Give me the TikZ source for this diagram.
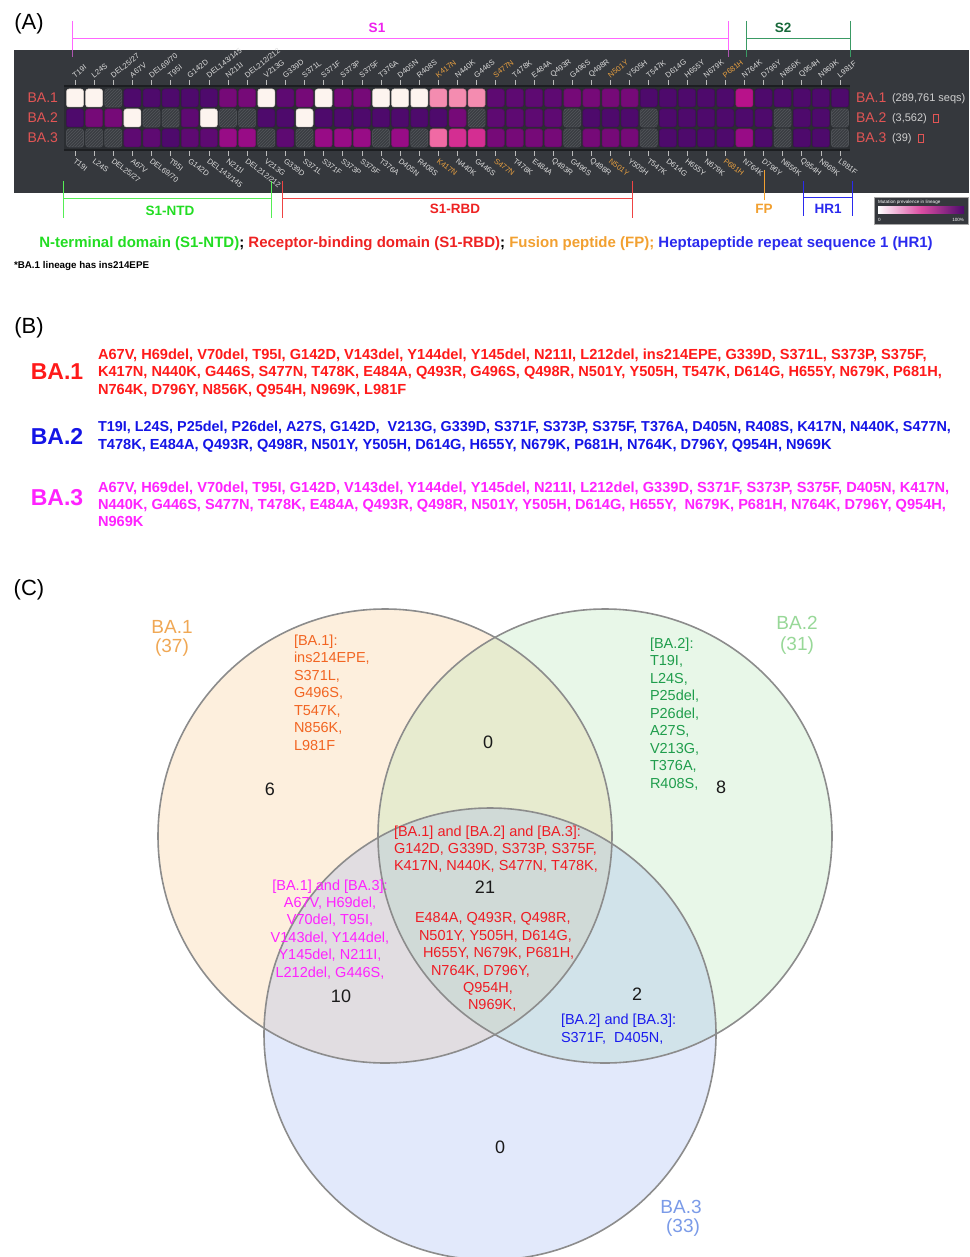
\documentclass[tikz,border=0pt]{standalone}
\usepackage{fontspec}
\setmainfont{Liberation Sans}
\usetikzlibrary{patterns}

\definecolor{panelbg}{HTML}{35383D}
\definecolor{griddark}{HTML}{2B2E32}
\definecolor{gridline}{HTML}{1C1E21}
\definecolor{tickc}{HTML}{BBBBBB}
\definecolor{labg}{HTML}{DDDDDD}
\definecolor{labo}{HTML}{E8A040}
\definecolor{cw}{HTML}{FDF4EF}
\definecolor{cd}{HTML}{4E0A6C}
\definecolor{cp}{HTML}{5E0A72}
\definecolor{cm}{HTML}{760A78}
\definecolor{cn}{HTML}{980C86}
\definecolor{cb}{HTML}{B8128A}
\definecolor{ck}{HTML}{F48CB0}
\definecolor{cj}{HTML}{F06AA4}
\definecolor{cr}{HTML}{D42E92}
\definecolor{hatchbg}{HTML}{393C41}
\definecolor{hatchln}{HTML}{53565B}
\definecolor{hatchbd}{HTML}{4A4D52}
\definecolor{rowred}{HTML}{E25555}
\definecolor{seqgray}{HTML}{CFCFCF}
\definecolor{sonec}{HTML}{FF66FF}
\definecolor{sonet}{HTML}{EE22EE}
\definecolor{stwoc}{HTML}{3A9A64}
\definecolor{stwot}{HTML}{17693A}
\definecolor{ntdc}{HTML}{55EE55}
\definecolor{ntdt}{HTML}{22DD22}
\definecolor{rbdc}{HTML}{EE4444}
\definecolor{rbdt}{HTML}{EE2222}
\definecolor{fpc}{HTML}{F2A030}
\definecolor{hrc}{HTML}{2A2AEE}
\definecolor{bred}{HTML}{FF1A1A}
\definecolor{bblue}{HTML}{1414E6}
\definecolor{bmag}{HTML}{FF22FF}
\definecolor{vone}{HTML}{F9C27A}
\definecolor{vtwo}{HTML}{A6E0A6}
\definecolor{vthree}{HTML}{8FA8F0}
\definecolor{vline}{HTML}{8C8C8C}
\definecolor{tone}{HTML}{F26522}
\definecolor{ttwo}{HTML}{1F9D4C}
\definecolor{tall}{HTML}{EE1C24}
\definecolor{tbc}{HTML}{FF22FF}
\definecolor{tbb}{HTML}{1A1AEE}
\definecolor{lone}{HTML}{F0A855}
\definecolor{ltwo}{HTML}{98D898}
\definecolor{lthree}{HTML}{7B9BE8}
\definecolor{numc}{HTML}{1A1A1A}

\newcommand\heatrow[2]{%
  \foreach \curc [count=\i from 0] in {#2} {%
    \pgfmathsetmacro\xc{75+\i*19.125}%
    \def\hatchkey{H}\edef\curcc{\curc}%
    \ifx\curcc\hatchkey
      \path[fill=hatchbg, draw=hatchbd, line width=0.6, rounded corners=2.5, postaction={pattern=north east lines, pattern color=hatchln}] (\xc-8.5,#1-9) rectangle (\xc+8.5,#1+9);
    \else
      \path[fill=\curc, draw=\curc!85!black, line width=0.5, rounded corners=2.5] (\xc-8.5,#1-9) rectangle (\xc+8.5,#1+9);
    \fi
  }}

\begin{document}
\begin{tikzpicture}[x=1pt,y=-1pt,
  every node/.style={inner sep=0pt, outer sep=0pt},
  plab/.style={font=\fontsize{22}{24}\selectfont},
  collab/.style={font=\fontsize{7.6}{8.2}\selectfont},
  rowlab/.style={font=\fontsize{14}{16}\selectfont, text=rowred},
  seqlab/.style={font=\fontsize{11}{13}\selectfont, text=seqgray},
  brlab/.style={font=\fontsize{13.5}{15}\selectfont\bfseries},
  btxt/.style={font=\fontsize{14.6}{17}\selectfont\bfseries, anchor=base west},
  blab/.style={font=\fontsize{23}{25}\selectfont\bfseries},
  vtxt/.style={font=\fontsize{14.5}{17}\selectfont},
  vnum/.style={font=\fontsize{18}{20}\selectfont, text=numc},
  vlab/.style={font=\fontsize{19}{21}\selectfont},
  circ/.style={draw=vline, line width=1.6}
]
\useasboundingbox[fill=white] (0,0) rectangle (969,1257);

% ================= Panel A =================
\node[plab] (pA) at (29,24) {(A)};
\fill[panelbg] (14,50) rectangle (969,193);

% S1 / S2 brackets
\draw[sonec, line width=1] (72,21) -- (72,50) (728,21) -- (728,50) (72,39) -- (728,39);
\draw[sonec!60!panelbg, line width=1] (72,50) -- (72,57) (728,50) -- (728,57);
\node[brlab, text=sonet] (sone) at (377,28) {S1};
\draw[stwoc, line width=1] (746,21) -- (746,57) (850,21) -- (850,57) (746,39) -- (850,39);
\node[brlab, text=stwot] (stwo) at (783,28) {S2};

% grid background and rules
\fill[griddark] (64,87) rectangle (850,149);
\draw[gridline, line width=2] (64,86) -- (850,86) (64,150) -- (850,150);

% column labels and ticks
\foreach \t [count=\i from 0] in {T19I,L24S,DEL25/27,A67V,DEL69/70,T95I,G142D,DEL143/145,N211I,DEL212/212,V213G,G339D,S371L,S371F,S373P,S375F,T376A,D405N,R408S,K417N,N440K,G446S,S477N,T478K,E484A,Q493R,G496S,Q498R,N501Y,Y505H,T547K,D614G,H655Y,N679K,P681H,N764K,D796Y,N856K,Q954H,N969K,L981F} {
  \pgfmathsetmacro\xc{75+\i*19.125}
  \pgfmathtruncatemacro\isor{(\i==19||\i==22||\i==28||\i==34)?1:0}
  \ifnum\isor=1 \def\lc{labo}\else\def\lc{labg}\fi
  \draw[tickc, line width=0.6] (\xc,80) -- (\xc,85) (\xc,151) -- (\xc,156);
  \node[collab, text=\lc, anchor=west, rotate=38] (tl\i) at (\xc-1.5,76) {\t};
  \node[collab, text=\lc, anchor=west, rotate=-38] (bl\i) at (\xc-0.5,160) {\t};
}

% heatmap cells
\heatrow{98}{cw,cw,H,cd,cd,cd,cd,cd,cm,cm,cw,cp,cm,cw,cm,cm,cw,cw,cw,ck,ck,ck,cp,cp,cp,cp,cm,cm,cm,cm,cd,cd,cd,cd,cd,cb,cd,cd,cd,cd,cd}
\heatrow{118}{cd,cm,cm,cw,H,H,cp,cw,H,H,cd,cd,cw,cd,cd,cd,cd,cd,cd,cd,cm,H,cp,cp,cp,cp,H,cd,cd,cd,H,cd,cd,cd,cd,cd,cd,H,cd,cd,H}
\heatrow{138}{H,H,H,cp,cp,cd,cp,cp,cn,cn,H,cp,H,cn,cn,cn,H,cn,H,cj,cr,cr,cm,cm,cm,cm,H,cm,cm,cm,H,cd,cd,cd,cd,cn,cd,H,cd,cd,H}

% row labels
\node[rowlab, anchor=east] (la1) at (58,98) {BA.1};
\node[rowlab, anchor=east] (la2) at (58,118) {BA.2};
\node[rowlab, anchor=east] (la3) at (58,138) {BA.3};
\node[rowlab, anchor=west] (ra1) at (856,98) {BA.1};
\node[rowlab, anchor=west] (ra2) at (856,118) {BA.2};
\node[rowlab, anchor=west] (ra3) at (856,138) {BA.3};
\node[seqlab, anchor=west] (rs1) at (892,98.5) {(289,761 seqs)};
\node[seqlab, anchor=west] (rs2) at (892,118.5) {(3,562)};
\node[seqlab, anchor=west] (rs3) at (892,138.5) {(39)};
\draw[rowred, line width=0.6] (933,114) rectangle (938,122);
\draw[rowred, line width=0.6] (918,134) rectangle (923,142);

% legend
\fill[panelbg] (874,197) rectangle (968,224);
\draw[gray!70, line width=0.5] (874,197) rectangle (968,224);
\node[font=\fontsize{4.6}{5}\selectfont, text=white, anchor=west] (lgt) at (878,202.5) {Mutation prevalence in lineage};
\shade[left color=white, right color=cd, middle color=cr!85!white] (878,207) rectangle (964,214);
\node[font=\fontsize{4.6}{5}\selectfont, text=white, anchor=west] (lg0) at (878,219.5) {0};
\node[font=\fontsize{4.6}{5}\selectfont, text=white, anchor=east] (lg1) at (964,219.5) {100\%};

% domain brackets
\draw[ntdc, line width=1] (63,181) -- (63,218) (271,181) -- (271,218) (63,199) -- (271,199);
\node[brlab, text=ntdt] (ntd) at (170,211) {S1-NTD};
\draw[rbdc, line width=1] (282,181) -- (282,218) (632,181) -- (632,218) (282,199) -- (632,199);
\node[brlab, text=rbdt] (rbd) at (455,209) {S1-RBD};
\draw[fpc, line width=1] (764,170) -- (764,200);
\node[brlab, text=fpc] (fp) at (764,209) {FP};
\draw[hrc, line width=1] (803,181) -- (803,216) (852,181) -- (852,216) (803,198) -- (852,198);
\node[brlab, text=hrc] (hr) at (828,209) {HR1};

\node[font=\fontsize{15}{17}\selectfont\bfseries] (dom) at (486,244)
  {\textcolor{ntdt}{N-terminal domain (S1-NTD)};
   \textcolor{rbdt}{Receptor-binding domain (S1-RBD)};
   \textcolor{fpc}{Fusion peptide (FP);}
   \textcolor{hrc}{Heptapeptide repeat sequence 1 (HR1)}};
\node[font=\fontsize{9.8}{11}\selectfont\bfseries, anchor=west] (foot) at (14,266) {*BA.1 lineage has ins214EPE};

% ================= Panel B =================
\node[plab] (pB) at (29,328) {(B)};
\node[blab, text=bred] (b1) at (57,372) {BA.1};
\node[blab, text=bblue] (b2) at (57,436) {BA.2};
\node[blab, text=bmag] (b3) at (57,498) {BA.3};

\node[btxt, text=bred] (b1a) at (98,359.3) {A67V, H69del, V70del, T95I, G142D, V143del, Y144del, Y145del, N211I, L212del, ins214EPE, G339D, S371L, S373P, S375F,};
\node[btxt, text=bred] (b1b) at (98,376.8) {K417N, N440K, G446S, S477N, T478K, E484A, Q493R, G496S, Q498R, N501Y, Y505H, T547K, D614G, H655Y, N679K, P681H,};
\node[btxt, text=bred] (b1c) at (98,394.3) {N764K, D796Y, N856K, Q954H, N969K, L981F};

\node[btxt, text=bblue, font=\fontsize{14.4}{17}\selectfont\bfseries] (b2a) at (98,431.8) {T19I, L24S, P25del, P26del, A27S, G142D,~ V213G, G339D, S371F, S373P, S375F, T376A, D405N, R408S, K417N, N440K, S477N,};
\node[btxt, text=bblue] (b2b) at (98,449.3) {T478K, E484A, Q493R, Q498R, N501Y, Y505H, D614G, H655Y, N679K, P681H, N764K, D796Y, Q954H, N969K};

\node[btxt, text=bmag] (b3a) at (98,492.3) {A67V, H69del, V70del, T95I, G142D, V143del, Y144del, Y145del, N211I, L212del, G339D, S371F, S373P, S375F, D405N, K417N,};
\node[btxt, text=bmag] (b3b) at (98,509.3) {N440K, G446S, S477N, T478K, E484A, Q493R, Q498R, N501Y, Y505H, D614G, H655Y,~ N679K, P681H, N764K, D796Y, Q954H,};
\node[btxt, text=bmag] (b3c) at (98,526.3) {N969K};

% ================= Panel C =================
\node[plab] (pC) at (29,590) {(C)};

\fill[vone, fill opacity=0.25] (385,836) circle[radius=227];
\fill[vtwo, fill opacity=0.25] (605,836) circle[radius=227];
\fill[vthree, fill opacity=0.25] (490,1034) circle[radius=226];
\draw[circ] (385,836) circle[radius=227];
\draw[circ] (605,836) circle[radius=227];
\draw[circ] (490,1034) circle[radius=226];

% set labels
\node[vlab, text=lone] (l1a) at (172,627) {BA.1};
\node[vlab, text=lone] (l1b) at (172,648) {(37)};
\node[vlab, text=ltwo] (l2a) at (797,623) {BA.2};
\node[vlab, text=ltwo] (l2b) at (797,646) {(31)};
\node[vlab, text=lthree] (l3a) at (681,1207) {BA.3};
\node[vlab, text=lthree] (l3b) at (683,1228) {(33)};

% counts
\node[vnum] (n12) at (488,742) {0};
\node[vnum] (n1) at (270,789) {6};
\node[vnum] (n2) at (721,787) {8};
\node[vnum] (n123) at (485,887) {21};
\node[vnum] (n13) at (341,996) {10};
\node[vnum] (n23) at (637,994) {2};
\node[vnum] (n3) at (500,1147) {0};

% region texts
\foreach \t [count=\i from 0] in {{[BA.1]:},{ins214EPE,},{S371L,},{G496S,},{T547K,},{N856K,},{L981F}} {
  \node[vtxt, text=tone, anchor=base west] (ta\i) at (294,645+\i*17.5) {\t};
}
\foreach \t [count=\i from 0] in {{[BA.2]:},{T19I,},{L24S,},{P25del,},{P26del,},{A27S,},{V213G,},{T376A,},{R408S,}} {
  \node[vtxt, text=ttwo, anchor=base west] (tb\i) at (650,648+\i*17.5) {\t};
}
\foreach \t [count=\i from 0] in {{[BA.1] and [BA.2] and [BA.3]:},{G142D, G339D, S373P, S375F,},{K417N, N440K, S477N, T478K,}} {
  \node[vtxt, text=tall, anchor=base west] (tc\i) at (394,836+\i*17.3) {\t};
}
\node[vtxt, text=tall, anchor=base west] (td0) at (415,922) {E484A, Q493R, Q498R,};
\node[vtxt, text=tall, anchor=base west] (td1) at (419,940) {N501Y, Y505H, D614G,};
\node[vtxt, text=tall, anchor=base west] (td2) at (423,957) {H655Y, N679K, P681H,};
\node[vtxt, text=tall, anchor=base west] (td3) at (431,975) {N764K, D796Y,};
\node[vtxt, text=tall, anchor=base west] (td4) at (463,992) {Q954H,};
\node[vtxt, text=tall, anchor=base west] (td5) at (468,1009) {N969K,};
\foreach \t [count=\i from 0] in {{[BA.1] and [BA.3]:},{A67V, H69del,},{V70del, T95I,},{V143del, Y144del,},{Y145del, N211I,},{L212del, G446S,}} {
  \node[vtxt, text=tbc, anchor=base] (te\i) at (330,890+\i*17.4) {\t};
}
\node[vtxt, text=tbb, anchor=base west] (tf0) at (561,1024) {[BA.2] and [BA.3]:};
\node[vtxt, text=tbb, anchor=base west] (tf1) at (561,1042) {S371F,~ D405N,};
\end{tikzpicture}
\end{document}
